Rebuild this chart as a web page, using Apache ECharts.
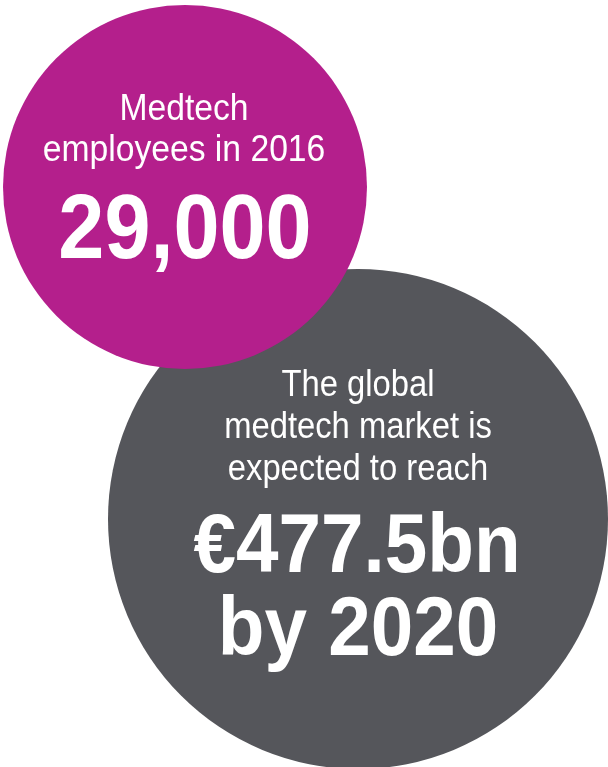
<!DOCTYPE html>
<html>
<head>
<meta charset="utf-8">
<script src="https://cdn.jsdelivr.net/npm/echarts@6/dist/echarts.min.js"></script>
<style>
html,body{margin:0;padding:0;background:#fff;}
#c{width:608px;height:767px;}
</style>
</head>
<body>
<div id="c"></div>
<script>
// Data
var employeeCaption = ['Medtech', 'employees in 2016'];
var employeeValue = '29,000';
var marketCaption = ['The global', 'medtech market is', 'expected to reach'];
var marketValue = ['€477.5bn', 'by 2020'];
var bubbleColors = ['#B41F8C', '#55565B'];

var chart = echarts.init(document.getElementById('c'), null, {renderer: 'canvas'});
var FONT = '"Liberation Sans", Arial, sans-serif';
var SX = 0.91;

function txt(str, x, baseline, size, bold) {
  return {
    type: 'text', x: x, y: baseline - 0.33 * size, scaleX: SX, z: 10,
    style: {
      text: str, x: 0, y: 0, fill: '#ffffff',
      font: (bold ? 'bold ' : '') + size + 'px ' + FONT,
      textAlign: 'center', textVerticalAlign: 'middle'
    }
  };
}

var els = [];
// Gray circle (below)
els.push({type: 'circle', shape: {cx: 358, cy: 519, r: 250}, style: {fill: bubbleColors[1]}, z: 1});
var gBase = [398, 440, 482];
marketCaption.forEach(function (s, i) { els.push(txt(s, 358, gBase[i], 36, false)); });
els.push(txt(marketValue[0], 357, 577, 84, true));
els.push(txt(marketValue[1], 358, 660, 84, true));
// Magenta circle (on top)
els.push({type: 'circle', shape: {cx: 185, cy: 187, r: 182}, style: {fill: bubbleColors[0]}, z: 5});
var mBase = [122, 163];
employeeCaption.forEach(function (s, i) { els.push(txt(s, 184, mBase[i], 37, false)); });
els.push(txt(employeeValue, 185, 263, 91, true));

chart.setOption({
  animation: false,
  graphic: {elements: els}
});
</script>
</body>
</html>
